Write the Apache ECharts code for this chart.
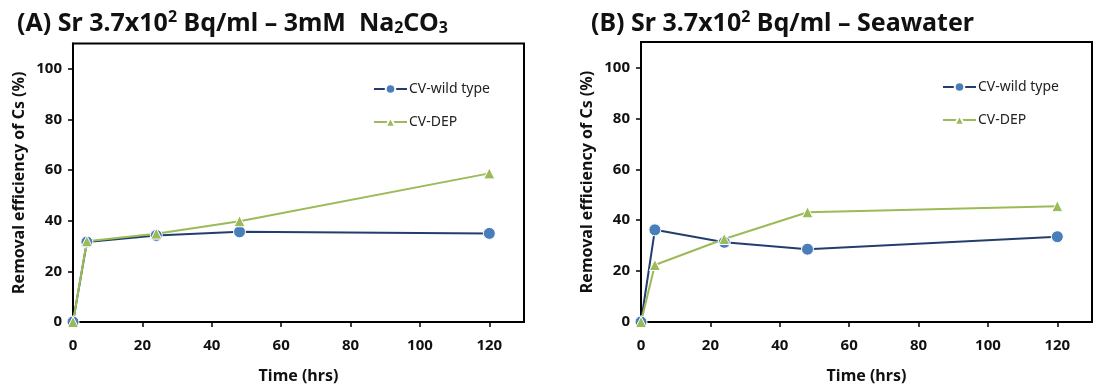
<!DOCTYPE html>
<html>
<head>
<meta charset="utf-8">
<script src="https://cdn.jsdelivr.net/npm/echarts@6/dist/echarts.min.js"></script>
<style>
html,body{margin:0;padding:0;background:#fff;}
#c{width:1095px;height:389px;}
</style>
</head>
<body>
<div id="c"></div>
<script>
// ---- data ----
const timesHrs = [0, 4, 24, 48, 120];
const seriesNames = ['CV-wild type', 'CV-DEP'];
const naWild = [0, 31.6, 34.2, 35.6, 35.0];
const naDep = [0, 31.9, 34.9, 39.8, 58.7];
const swWild = [0, 36.2, 31.3, 28.6, 33.5];
const swDep = [0, 22.4, 32.6, 43.1, 45.5];
const xTicks = [0, 20, 40, 60, 80, 100, 120];
const yTicks = [0, 20, 40, 60, 80, 100];
const yAxisTitle = 'Removal efficiency of Cs (%)';
const xAxisTitle = 'Time (hrs)';

const FONT = '"Noto Sans", "Open Sans", sans-serif';
const pairs = (ys) => timesHrs.map((t, i) => [t, ys[i]]);

const wildColor = '#4A7EBB', wildLine = '#233E6E';
const depColor = '#9BBB59';

function xAxis(gi) {
  return {
    type: 'value', gridIndex: gi, min: 0, max: 130, interval: 10,
    name: xAxisTitle, nameLocation: 'middle', nameGap: 46,
    nameTextStyle: {fontFamily: FONT, fontWeight: 'bold', fontSize: 16, color: '#111'},
    axisLine: {show: true, lineStyle: {color: '#000', width: 2}},
    axisTick: {show: true, length: 5, lineStyle: {color: '#000', width: 1.5}, customValues: xTicks},
    axisLabel: {fontFamily: FONT, fontWeight: 'bold', fontSize: 15, color: '#111', margin: 16,
      customValues: xTicks},
    splitLine: {show: false}
  };
}
function yAxis(gi) {
  return {
    type: 'value', gridIndex: gi, min: 0, max: 110, interval: 10,
    name: yAxisTitle, nameLocation: 'middle', nameGap: 46,
    nameTextStyle: {fontFamily: FONT, fontWeight: 'bold', fontSize: 16, color: '#111'},
    axisLine: {show: true, lineStyle: {color: '#000', width: 2}},
    axisTick: {show: true, length: 5, lineStyle: {color: '#000', width: 1.5}, customValues: yTicks},
    axisLabel: {fontFamily: FONT, fontWeight: 'bold', fontSize: 15, color: '#111', margin: 11,
      customValues: yTicks},
    splitLine: {show: false}
  };
}
function mkSeries(name, data, gi, isWild) {
  return {
    name: name, type: 'line', xAxisIndex: gi, yAxisIndex: gi, data: data,
    symbol: isWild ? 'circle' : 'triangle', symbolSize: isWild ? 12 : 11,
    clip: false,
    lineStyle: {color: isWild ? wildLine : depColor, width: 2},
    itemStyle: {color: isWild ? wildColor : depColor, borderColor: '#fff', borderWidth: 1},
    emphasis: {disabled: true}
  };
}
const richT = {
  t: {fontFamily: FONT, fontWeight: 'bold', fontSize: 25, color: '#111', lineHeight: 32},
  sup: {fontFamily: FONT, fontWeight: 'bold', fontSize: 16, color: '#111', lineHeight: 32, padding: [0, 0, 13, 0]},
  sub: {fontFamily: FONT, fontWeight: 'bold', fontSize: 16, color: '#111', lineHeight: 32, padding: [0, 0, -9, 0]}
};
function legend(left, top) {
  return {
    orient: 'vertical', left: left, top: top, itemWidth: 33, itemHeight: 12, itemGap: 19,
    padding: 0, data: seriesNames,
    textStyle: {fontFamily: FONT, fontSize: 14, color: '#222', padding: [0, 0, 0, -3]},
    selectedMode: false
  };
}

const chart = echarts.init(document.getElementById('c'), null, {renderer: 'canvas'});
chart.setOption({
  animation: false,
  backgroundColor: '#fff',
  title: [
    {left: 12, top: 3, text: '{t|(A) Sr 3.7x10}{sup|2}{t| Bq/ml – 3mM  Na}{sub|2}{t|CO}{sub|3}',
     textStyle: {rich: richT}},
    {left: 586, top: 3, text: '{t|(B) Sr 3.7x10}{sup|2}{t| Bq/ml – Seawater}',
     textStyle: {rich: richT}}
  ],
  legend: [legend(373, 82), legend(942, 80)],
  grid: [
    {left: 73, top: 43.5, width: 451, height: 281.5, show: true, borderColor: '#000', borderWidth: 2, containLabel: false},
    {left: 641, top: 42, width: 451, height: 282, show: true, borderColor: '#000', borderWidth: 2, containLabel: false}
  ],
  xAxis: [xAxis(0), xAxis(1)],
  yAxis: [yAxis(0), yAxis(1)],
  series: [
    mkSeries(seriesNames[0], pairs(naWild), 0, true),
    mkSeries(seriesNames[1], pairs(naDep), 0, false),
    mkSeries(seriesNames[0], pairs(swWild), 1, true),
    mkSeries(seriesNames[1], pairs(swDep), 1, false)
  ]
});
</script>
</body>
</html>
